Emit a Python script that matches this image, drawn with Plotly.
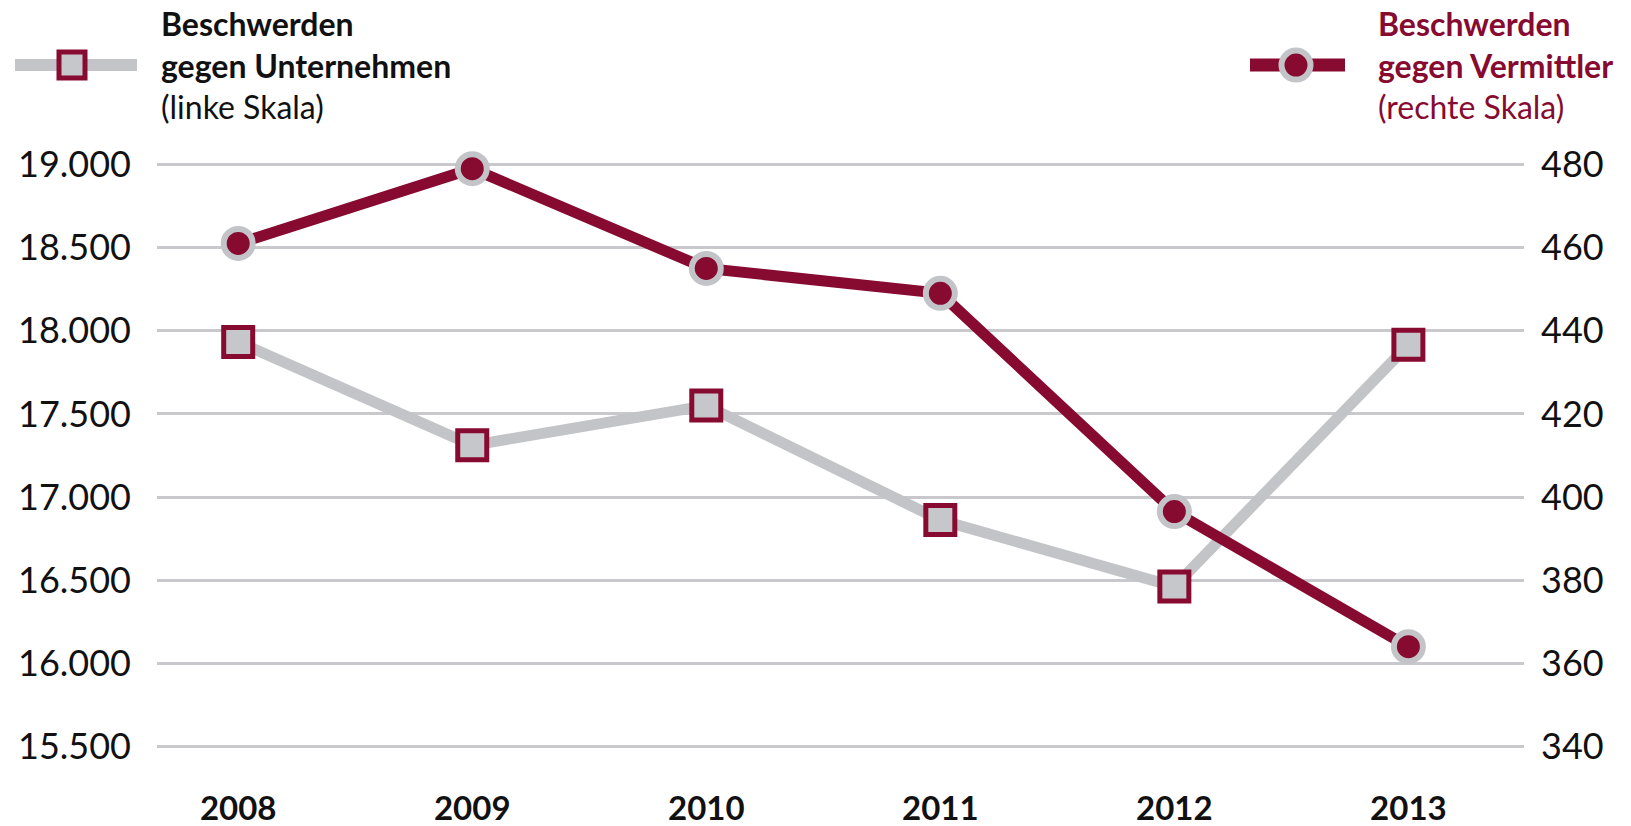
import plotly.graph_objects as go

# ---- data ----
years = [2008, 2009, 2010, 2011, 2012, 2013]
unternehmen = [17933, 17311, 17550, 16862, 16462, 17916]   # left scale
vermittler = [461, 479, 455, 449, 396.5, 364]              # right scale

left_tickvals = [15500, 16000, 16500, 17000, 17500, 18000, 18500, 19000]
left_ticktext = ["15.500", "16.000", "16.500", "17.000", "17.500", "18.000", "18.500", "19.000"]
right_tickvals = [340, 360, 380, 400, 420, 440, 460, 480]
right_ticktext = ["340", "360", "380", "400", "420", "440", "460", "480"]
year_labels = ["2008", "2009", "2010", "2011", "2012", "2013"]

CRIMSON = "#870A30"
GRAY = "#C3C4C7"
GRID = "#C9C9CD"
FONT = "Lato"

W, H = 1631, 826
ML, MR, MT, MB = 157, 107, 162, 76.5
PW, PH = W - ML - MR, H - MT - MB


def px(x):
    """page pixel x -> paper x"""
    return (x - ML) / PW


def py(y):
    """page pixel y -> paper y"""
    return (H - MB - y) / PH


fig = go.Figure()

fig.add_trace(go.Scatter(
    x=years, y=unternehmen, yaxis="y", mode="lines+markers",
    line=dict(color=GRAY, width=11),
    marker=dict(symbol="square", size=29, color="#C6C7CA",
                line=dict(color=CRIMSON, width=5)),
    cliponaxis=False, showlegend=False,
    name="Beschwerden gegen Unternehmen",
))
fig.add_trace(go.Scatter(
    x=years, y=vermittler, yaxis="y2", mode="lines+markers",
    line=dict(color=CRIMSON, width=11),
    marker=dict(symbol="circle", size=29, color=CRIMSON,
                line=dict(color="#C3C4C7", width=6)),
    cliponaxis=False, showlegend=False,
    name="Beschwerden gegen Vermittler",
))

shapes = [
    # left legend glyph
    dict(type="line", xref="paper", yref="paper", x0=px(15), x1=px(137), y0=py(65), y1=py(65),
         line=dict(color=GRAY, width=12)),
    dict(type="rect", xref="paper", yref="paper", x0=px(72 - 13), x1=px(72 + 13),
         y0=py(65 + 13), y1=py(65 - 13), fillcolor="#C6C7CA", line=dict(color=CRIMSON, width=5)),
    # right legend glyph
    dict(type="line", xref="paper", yref="paper", x0=px(1250), x1=px(1345), y0=py(65), y1=py(65),
         line=dict(color=CRIMSON, width=13)),
    dict(type="circle", xref="paper", yref="paper", x0=px(1296 - 14.5), x1=px(1296 + 14.5),
         y0=py(65 + 14.5), y1=py(65 - 14.5), fillcolor=CRIMSON, line=dict(color="#C3C4C7", width=6)),
]

annotations = [
    dict(xref="paper", yref="paper", x=px(159), y=py(65), xanchor="left", yanchor="middle",
         align="left", showarrow=False,
         text="<b>Beschwerden</b><br><b>gegen Unternehmen</b><br>(linke Skala)",
         font=dict(family=FONT, size=32, color="#111111")),
    dict(xref="paper", yref="paper", x=px(1376), y=py(65), xanchor="left", yanchor="middle",
         align="left", showarrow=False,
         text="<b>Beschwerden</b><br><b>gegen Vermittler</b><br>(rechte Skala)",
         font=dict(family=FONT, size=32, color=CRIMSON)),
]

fig.update_layout(
    width=W, height=H,
    margin=dict(l=ML, r=MR, t=MT, b=MB, pad=0, autoexpand=False),
    paper_bgcolor="white", plot_bgcolor="white",
    font=dict(family=FONT, color="#111111"),
    shapes=shapes, annotations=annotations,
    xaxis=dict(
        range=[2007.653, 2013.494], tickvals=years, ticktext=year_labels,
        showgrid=False, zeroline=False, showline=False, ticks="", automargin=False,
        tickfont=dict(family=FONT, size=33, color="#111111", weight="bold"),
        ticklabelstandoff=37,
    ),
    yaxis=dict(
        range=[15485, 19015], tickvals=left_tickvals, ticktext=left_ticktext,
        showgrid=True, gridcolor=GRID, gridwidth=3, zeroline=False, showline=False, ticks="",
        automargin=False,
        tickfont=dict(family=FONT, size=36, color="#111111"),
        ticklabelstandoff=25,
    ),
    yaxis2=dict(
        range=[339.4, 480.6], tickvals=right_tickvals, ticktext=right_ticktext,
        overlaying="y", side="right", showgrid=False, zeroline=False, showline=False, ticks="",
        automargin=False,
        tickfont=dict(family=FONT, size=36, color="#111111"),
        ticklabelstandoff=16,
    ),
)

fig.write_html("out.html", config={"displayModeBar": False},
               post_script="document.body.style.margin='0';")
